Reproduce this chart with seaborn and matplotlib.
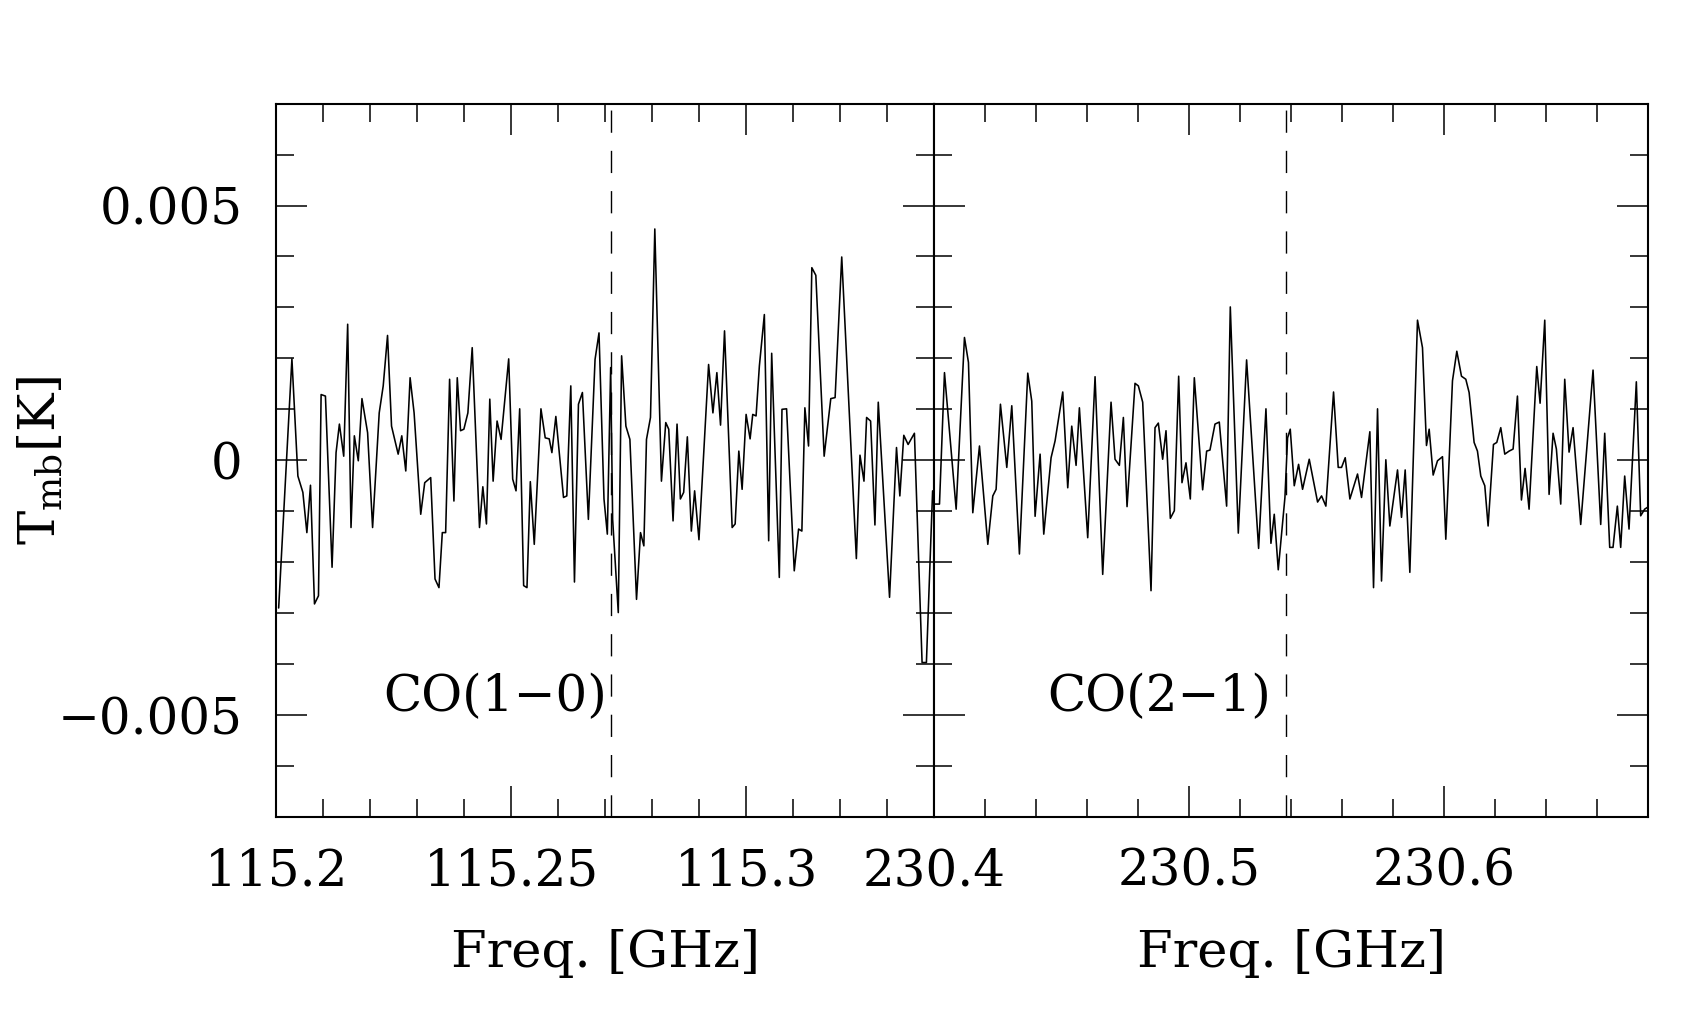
import numpy as np
import pandas as pd
import matplotlib
matplotlib.use('Agg')
import matplotlib.pyplot as plt
import seaborn as sns
from matplotlib.ticker import MultipleLocator

sns.set_style('ticks')
plt.rcParams['font.family'] = ['DejaVu Serif']
plt.rcParams['mathtext.fontset'] = 'dejavuserif'
plt.rcParams['text.color'] = 'black'
plt.rcParams['axes.labelcolor'] = 'black'
plt.rcParams['xtick.color'] = 'black'
plt.rcParams['ytick.color'] = 'black'

# CO(1-0) 스펙트럼: 115.2 GHz 기준 주파수 오프셋 (MHz), 밝기온도 (mK)
co10_dnu = [0.5, 3.32, 4.59, 5.65, 6.50, 7.27, 8.12, 8.97, 9.53, 10.45,
            11.86, 12.71, 13.42, 14.34, 15.18, 15.89, 16.60, 17.44, 18.22, 19.42,
            20.48, 21.89, 22.74, 23.66, 24.51, 25.92, 26.69, 27.54, 28.46, 29.31,
            30.72, 31.57, 32.84, 33.76, 34.60, 35.31, 36.02, 36.86, 37.78, 38.49,
            39.19, 39.90, 40.75, 41.67, 43.22, 43.93, 44.70, 45.41, 46.12, 46.96,
            47.81, 49.43, 50.28, 50.99, 51.77, 52.61, 53.32, 54.03, 54.87, 56.29,
            57.20, 58.05, 58.62, 59.46, 61.09, 61.79, 62.64, 63.42, 64.27, 65.11,
            66.38, 67.80, 68.64, 69.70, 70.41, 71.12, 71.54, 72.74, 73.45, 74.36,
            75.21, 76.62, 77.47, 78.18, 78.74, 79.59, 80.51, 81.92, 82.84, 83.47,
            84.39, 85.24, 85.95, 86.65, 87.43, 88.28, 88.98, 89.90, 91.95, 92.87,
            93.71, 94.49, 95.34, 96.96, 97.60, 98.38, 99.08, 99.93, 100.78, 101.34,
            102.05, 102.75, 103.81, 104.73, 105.37, 106.99, 107.56, 108.54, 110.17, 111.09,
            111.79, 112.43, 113.21, 113.91, 114.76, 116.53, 117.94, 118.86, 120.27, 123.38,
            124.15, 125.00, 125.56, 126.41, 127.33, 128.04, 130.44, 131.92, 132.63, 133.47,
            134.39, 135.73, 137.36, 138.28, 139.60]
co10_tmb = [-2.90, 1.99, -0.31, -0.63, -1.42, -0.49, -2.82, -2.66, 1.29, 1.26,
            -2.10, 0.15, 0.71, 0.08, 2.67, -1.32, 0.48, -0.01, 1.21, 0.54,
            -1.32, 0.93, 1.46, 2.45, 0.67, 0.12, 0.48, -0.21, 1.62, 0.93,
            -1.06, -0.44, -0.34, -2.33, -2.50, -1.42, -1.42, 1.59, -0.80, 1.62,
            0.58, 0.61, 0.93, 2.21, -1.32, -0.52, -1.25, 1.20, -0.41, 0.77,
            0.41, 1.99, -0.37, -0.60, 1.01, -2.46, -2.50, -0.42, -1.65, 1.01,
            0.44, 0.42, 0.15, 0.86, -0.73, -0.70, 1.46, -2.39, 1.10, 1.33,
            -1.16, 1.98, 2.50, -0.76, -1.45, 1.82, -1.16, -2.99, 2.05, 0.67,
            0.41, -2.73, -1.42, -1.68, 0.41, 0.84, 4.54, -0.41, 0.74, 0.61,
            -1.19, 0.71, -0.76, -0.63, 0.46, -1.39, -0.60, -1.56, 1.88, 0.93,
            1.72, 0.69, 2.54, -1.32, -1.25, 0.18, -0.57, 0.90, 0.42, 0.90,
            0.87, 1.85, 2.86, -1.58, 2.10, -2.30, 1.00, 1.01, -2.17, -1.35,
            -1.39, 1.03, 0.28, 3.78, 3.63, 0.08, 1.21, 1.23, 3.99, -1.93,
            0.10, -0.41, 0.84, 0.77, -1.27, 1.14, -2.69, 0.25, -0.70, 0.49,
            0.31, 0.53, -3.97, -3.97, -0.60]

# CO(2-1) 스펙트럼: 230.4 GHz 기준 주파수 오프셋 (MHz), 밝기온도 (mK)
co21_dnu = [0.0, 1.96, 3.92, 8.50, 11.76, 13.33, 15.03, 17.65, 20.92, 22.88,
            24.18, 25.88, 28.37, 30.33, 33.33, 36.60, 38.17, 39.48, 41.44, 42.88,
            45.75, 47.32, 50.33, 52.29, 53.86, 55.56, 56.86, 60.13, 63.01, 66.01,
            69.28, 70.85, 72.55, 74.12, 75.56, 78.69, 80.00, 81.70, 84.97, 86.54,
            87.84, 89.54, 90.85, 92.55, 94.12, 95.82, 97.12, 98.69, 100.39, 101.96,
            105.23, 106.80, 108.10, 110.07, 111.76, 114.64, 116.08, 119.22, 122.48, 127.19,
            130.07, 132.03, 133.33, 134.90, 137.52, 138.56, 139.61, 141.18, 142.88, 144.44,
            147.06, 150.33, 151.90, 153.59, 156.60, 158.43, 159.74, 161.18, 163.01, 166.01,
            167.58, 170.85, 172.29, 173.86, 175.42, 177.12, 178.69, 181.70, 183.27, 184.71,
            186.54, 189.54, 191.50, 193.07, 194.12, 195.69, 197.39, 199.35, 200.65, 203.27,
            204.97, 206.80, 208.50, 209.80, 211.76, 213.07, 214.38, 215.95, 217.25, 219.35,
            220.65, 222.22, 223.79, 225.49, 227.06, 228.76, 230.33, 231.76, 233.33, 236.34,
            237.65, 239.48, 241.18, 242.75, 244.05, 245.75, 247.32, 249.02, 250.59, 253.59,
            258.43, 261.44, 263.01, 264.97, 266.27, 267.97, 269.28, 270.85, 272.55, 275.42,
            277.12, 278.69, 280.50]
co21_tmb = [-0.86, -0.86, 1.72, -0.96, 2.41, 1.92, -1.03, 0.28, -1.65, -0.70,
            -0.57, 1.10, -0.14, 1.07, -1.84, 1.71, 1.16, -1.10, 0.12, -1.45,
            0.05, 0.38, 1.34, -0.54, 0.67, -0.10, 1.03, -1.52, 1.64, -2.24,
            1.14, 0.02, -0.10, 0.84, -0.91, 1.51, 1.46, 1.14, -2.56, 0.64,
            0.73, 0.02, 0.58, -1.14, -0.99, 1.65, -0.44, -0.05, -0.76, 1.62,
            -0.58, 0.18, 0.20, 0.71, 0.75, -0.90, 3.01, -1.43, 1.97, -1.73,
            1.01, -1.63, -1.06, -2.15, -0.73, 0.44, 0.61, -0.50, -0.08, -0.57,
            0.02, -0.82, -0.70, -0.90, 1.34, -0.14, -0.14, 0.05, -0.76, -0.27,
            -0.73, 0.56, -2.50, 1.01, -2.37, 0.01, -1.29, -0.19, -1.12, -0.19,
            -2.20, 2.75, 2.21, 0.29, 0.61, -0.29, -0.01, 0.07, -1.55, 1.56,
            2.14, 1.65, 1.59, 1.33, 0.35, 0.18, -0.31, -0.50, -1.29, 0.31,
            0.35, 0.64, 0.12, 0.18, 0.22, 1.26, -0.78, -0.16, -0.96, 1.84,
            1.12, 2.75, -0.67, 0.53, 0.22, -0.86, 1.59, 0.16, 0.64, -1.26,
            1.77, -1.26, 0.53, -1.71, -1.71, -0.90, -1.71, -0.31, -1.35, 1.54,
            -1.09, -0.96, -0.90]

# 정지 주파수 (GHz), 라벨 위치, 축 범위
rest_freq = [115.2712, 230.538]
line_names = ['CO(1−0)', 'CO(2−1)']
name_freq = [115.2465, 230.488]
name_tmb = -0.00466
xlims = [(115.2, 115.34), (230.4, 230.68)]
xmajor = [[115.2, 115.25, 115.3], [230.4, 230.5, 230.6]]
xmajor_labels = [['115.2', '115.25', '115.3'], ['230.4', '230.5', '230.6']]
xminor_step = [0.01, 0.02]
yticks = [-0.005, 0, 0.005]
ytick_labels = ['−0.005', '0', '0.005']

df10 = pd.DataFrame({'freq': 115.2 + np.array(co10_dnu) / 1000,
                     'tmb': np.array(co10_tmb) / 1000})
df21 = pd.DataFrame({'freq': 230.4 + np.array(co21_dnu) / 1000,
                     'tmb': np.array(co21_tmb) / 1000})

fig = plt.figure(figsize=(16.92, 10.21), dpi=100)
ax1 = fig.add_axes([0.1633, 0.1999, 0.3890, 0.6986])
ax2 = fig.add_axes([0.5523, 0.1999, 0.4217, 0.6986])

for i, (ax, df) in enumerate([(ax1, df10), (ax2, df21)]):
    sns.lineplot(data=df, x='freq', y='tmb', ax=ax, color='black', lw=1.15,
                 estimator=None, sort=False)
    ax.axvline(rest_freq[i], color='black', lw=1.0, ls=(0, (16, 13)))
    ax.text(name_freq[i], name_tmb, line_names[i], ha='center', va='center',
            fontsize=36, color='black')
    ax.set_xlim(*xlims[i])
    ax.set_ylim(-0.007, 0.007)
    ax.set_xticks(xmajor[i])
    ax.set_xticklabels(xmajor_labels[i])
    ax.xaxis.set_minor_locator(MultipleLocator(xminor_step[i]))
    ax.set_yticks(yticks)
    ax.yaxis.set_minor_locator(MultipleLocator(0.001))
    ax.tick_params(which='both', direction='in', top=True, right=True,
                   width=1.1, color='black', labelcolor='black', labelsize=36)
    ax.tick_params(which='major', length=22)
    ax.tick_params(which='minor', length=13)
    ax.tick_params(axis='x', pad=22)
    ax.tick_params(axis='y', pad=24)
    for s in ax.spines.values():
        s.set_linewidth(1.5)
        s.set_color('black')
    ax.set_xlabel('Freq. [GHz]', fontsize=37, color='black')
    ax.xaxis.set_label_coords(0.5, -0.157)
    ax.set_ylabel('')

ax1.set_yticklabels(ytick_labels)
ax2.tick_params(labelleft=False)
ax1.set_ylabel(r'T$_{\rm mb}$[K]', fontsize=37, color='black')
ax1.yaxis.set_label_coords(-0.318, 0.5)

fig.savefig('out.png', dpi=100, facecolor='white')
